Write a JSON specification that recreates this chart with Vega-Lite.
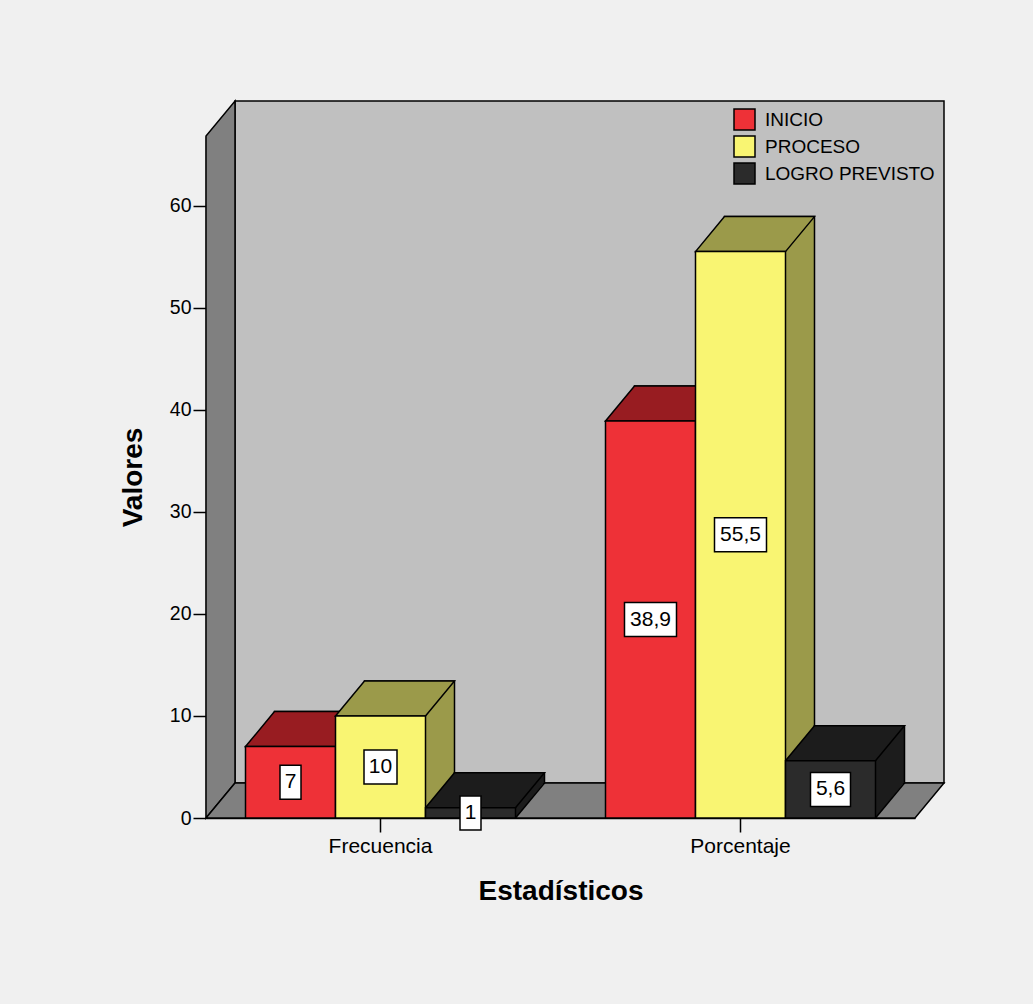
{
  "$schema": "https://vega.github.io/schema/vega-lite/v6.json",
  "width": 709,
  "height": 682,
  "autosize": {"type": "none"},
  "padding": {"left": 206, "top": 136, "right": 118, "bottom": 186},
  "background": "#F0F0F0",
  "config": {
    "view": {"stroke": null},
    "font": "Liberation Sans",
    "legend": {"padding": 0}
  },
  "datasets": {
    "bars": [
      {"stat": "Frecuencia", "series": "INICIO", "key": "Frecuencia|INICIO", "value": 7, "label": "7"},
      {"stat": "Frecuencia", "series": "PROCESO", "key": "Frecuencia|PROCESO", "value": 10, "label": "10"},
      {"stat": "Frecuencia", "series": "LOGRO PREVISTO", "key": "Frecuencia|LOGRO PREVISTO", "value": 1, "label": "1"},
      {"stat": "Porcentaje", "series": "INICIO", "key": "Porcentaje|INICIO", "value": 38.9, "label": "38,9"},
      {"stat": "Porcentaje", "series": "PROCESO", "key": "Porcentaje|PROCESO", "value": 55.5, "label": "55,5"},
      {"stat": "Porcentaje", "series": "LOGRO PREVISTO", "key": "Porcentaje|LOGRO PREVISTO", "value": 5.6, "label": "5,6"}
    ]
  },
  "data": {"name": "bars"},
  "encoding": {
    "x": {
      "field": "key",
      "type": "nominal",
      "title": "Estadísticos",
      "scale": {
        "domain": ["Frecuencia|INICIO", "Frecuencia|PROCESO", "Frecuencia|LOGRO PREVISTO", "gap", "Porcentaje|INICIO", "Porcentaje|PROCESO", "Porcentaje|LOGRO PREVISTO"],
        "paddingInner": 0,
        "paddingOuter": 0.4389
      },
      "axis": {
        "values": ["Frecuencia|PROCESO", "Porcentaje|PROCESO"],
        "labelExpr": "split(datum.value, '|')[0]",
        "labelAngle": 0,
        "tickSize": 14,
        "tickColor": "black",
        "tickWidth": 1.5,
        "domain": true,
        "domainColor": "black",
        "domainWidth": 1.5,
        "labelFontSize": 21,
        "labelColor": "black",
        "labelPadding": 3,
        "titleFontSize": 28,
        "titleFontWeight": "bold",
        "titleColor": "black",
        "titlePadding": 21,
        "grid": false
      }
    },
    "y": {
      "field": "value",
      "type": "quantitative",
      "title": "Valores",
      "scale": {"domain": [0, 66.83], "nice": false, "zero": true},
      "axis": {
        "values": [0, 10, 20, 30, 40, 50, 60],
        "tickSize": 13,
        "tickColor": "black",
        "tickWidth": 1.5,
        "domainColor": "black",
        "domainWidth": 1.5,
        "labelFontSize": 19.5,
        "labelColor": "black",
        "labelPadding": 2,
        "titleFontSize": 28,
        "titleFontWeight": "bold",
        "titleColor": "black",
        "titlePadding": 22,
        "grid": false
      }
    }
  },
  "layer": [
    {
      "transform": [{"filter": "datum.key == 'Frecuencia|INICIO'"}],
      "mark": {"type": "point", "shape": "M-55.5,-35 L653.5,-35 L653.5,-717 L-55.5,-717 Z", "size": 4, "filled": true, "fill": "#C0C0C0", "stroke": "black", "strokeWidth": 1.5, "opacity": 1},
      "encoding": {
        "y": {"datum": 0, "type": "quantitative", "title": "Valores"}
      }
    },
    {
      "transform": [{"filter": "datum.key == 'Frecuencia|INICIO'"}],
      "mark": {"type": "point", "shape": "M-84.5,0 L-84.5,-682 L-55.5,-717 L-55.5,-35 Z", "size": 4, "filled": true, "fill": "#808080", "stroke": "black", "strokeWidth": 1.5, "opacity": 1},
      "encoding": {
        "y": {"datum": 0, "type": "quantitative", "title": "Valores"}
      }
    },
    {
      "transform": [{"filter": "datum.key == 'Frecuencia|INICIO'"}],
      "mark": {"type": "point", "shape": "M-84.5,0 L624.5,0 L653.5,-35 L-55.5,-35 Z", "size": 4, "filled": true, "fill": "#808080", "stroke": "black", "strokeWidth": 1.5, "opacity": 1},
      "encoding": {
        "y": {"datum": 0, "type": "quantitative", "title": "Valores"}
      }
    },
    {
      "mark": {"type": "bar", "xOffset": 29, "yOffset": -35, "y2Offset": -35, "stroke": "black", "strokeWidth": 1.5},
      "encoding": {
        "color": {"field": "series", "type": "nominal", "scale": {"domain": ["LOGRO PREVISTO", "INICIO", "PROCESO"], "range": ["#1C1C1C", "#981C21", "#9B9A4A"]}, "legend": null}
      }
    },
    {
      "mark": {"type": "point", "shape": "M74,-36 L45,0 L45,-36 Z", "size": 4, "filled": true, "opacity": 1, "strokeWidth": 0},
      "encoding": {
        "y": {"datum": 0, "type": "quantitative", "title": "Valores"},
        "color": {"field": "series", "type": "nominal", "scale": {"domain": ["LOGRO PREVISTO", "INICIO", "PROCESO"], "range": ["#1C1C1C", "#981C21", "#9B9A4A"]}, "legend": null}
      }
    },
    {
      "mark": {"type": "point", "shape": "M45,0 L74,-35", "size": 4, "filled": false, "fill": "transparent", "stroke": "black", "strokeWidth": 1.5, "opacity": 1},
      "encoding": {
        "y": {"datum": 0, "type": "quantitative", "title": "Valores"}
      }
    },
    {
      "mark": {"type": "point", "shape": "M-45,0 L-16,-35 L74,-35 L45,0 Z", "size": 4, "filled": true, "opacity": 1, "stroke": "black", "strokeWidth": 1.5},
      "encoding": {
        "color": {"field": "series", "type": "nominal", "scale": {"domain": ["LOGRO PREVISTO", "INICIO", "PROCESO"], "range": ["#1C1C1C", "#981C21", "#9B9A4A"]}, "legend": null}
      }
    },
    {
      "mark": {"type": "bar", "stroke": "black", "strokeWidth": 1.5},
      "encoding": {
        "fill": {
          "field": "series",
          "type": "nominal",
          "scale": {"domain": ["INICIO", "PROCESO", "LOGRO PREVISTO"], "range": ["#EE3137", "#F9F572", "#2B2B2B"]},
          "legend": {
            "orient": "none",
            "legendX": 527,
            "legendY": -28,
            "title": null,
            "symbolType": "square",
            "symbolSize": 441,
            "symbolStrokeColor": "black",
            "symbolStrokeWidth": 1.5,
            "labelFontSize": 19,
            "labelColor": "black",
            "labelOffset": 9,
            "labelLimit": 0,
            "rowPadding": 0
          }
        }
      }
    },
    {
      "transform": [{"calculate": "datum.value / 2", "as": "mid"}],
      "mark": {"type": "point", "size": 4, "filled": true, "fill": "white", "stroke": "black", "strokeWidth": 1.5, "opacity": 1},
      "encoding": {
        "y": {"field": "mid", "type": "quantitative", "title": "Valores"},
        "shape": {
          "field": "label",
          "type": "nominal",
          "scale": {
            "domain": ["7", "10", "1", "38,9", "55,5", "5,6"],
            "range": ["M-10.5,-17 L10.5,-17 L10.5,17 L-10.5,17 Z", "M-16.5,-17 L16.5,-17 L16.5,17 L-16.5,17 Z", "M-10.5,-17 L10.5,-17 L10.5,17 L-10.5,17 Z", "M-26,-17 L26,-17 L26,17 L-26,17 Z", "M-26,-17 L26,-17 L26,17 L-26,17 Z", "M-20,-17 L20,-17 L20,17 L-20,17 Z"]
          },
          "legend": null
        }
      }
    },
    {
      "transform": [{"calculate": "datum.value / 2", "as": "mid"}],
      "mark": {"type": "text", "fontSize": 21, "align": "center", "baseline": "middle", "color": "black"},
      "encoding": {
        "y": {"field": "mid", "type": "quantitative", "title": "Valores"},
        "text": {"field": "label", "type": "nominal"}
      }
    }
  ]
}
